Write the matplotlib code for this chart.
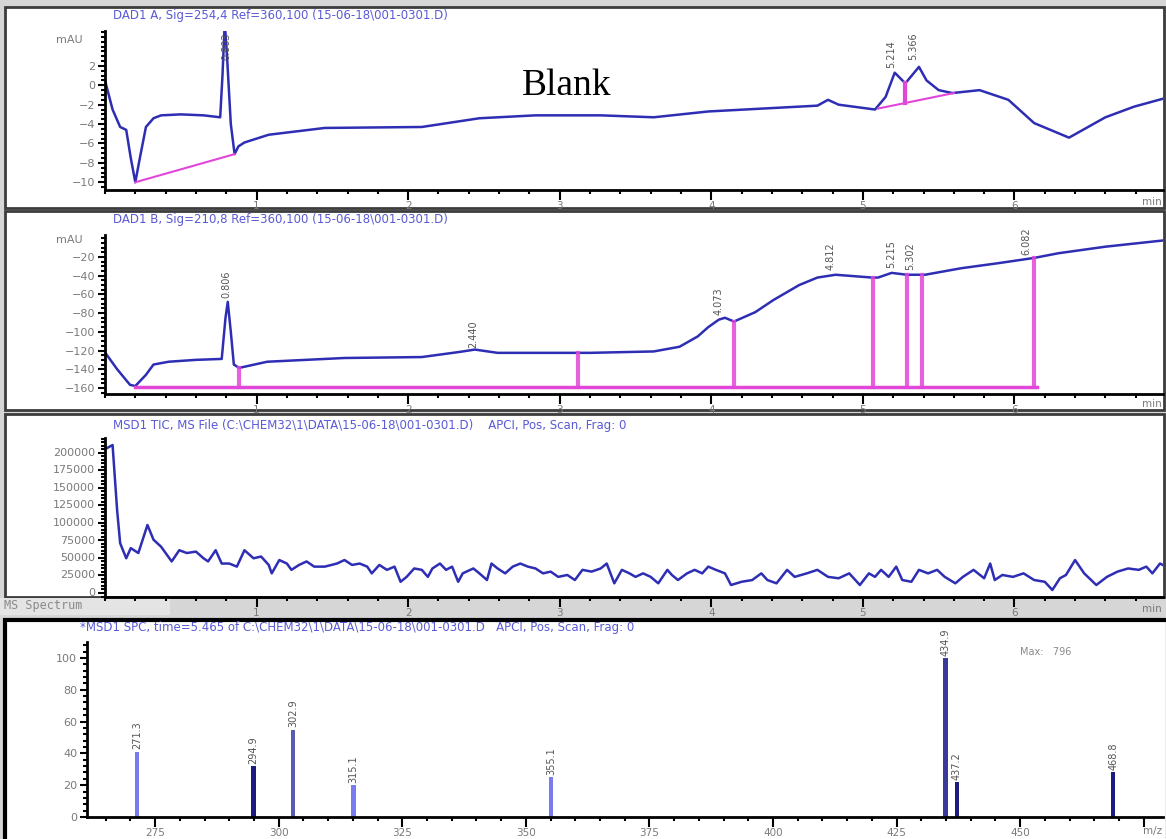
import matplotlib
matplotlib.use("Agg")
import matplotlib.pyplot as plt
import matplotlib.patches as patches
from matplotlib.ticker import MultipleLocator, FixedLocator
import numpy as np

# ---------------- data ----------------
# DAD1 A, 254 nm
p1_t = [0.0, 0.05, 0.10, 0.14, 0.17, 0.20, 0.23, 0.27, 0.32, 0.37, 0.50, 0.65, 0.76,
        0.775, 0.79, 0.805, 0.83, 0.855, 0.88, 0.92, 1.08, 1.45, 2.09, 2.47, 2.84, 3.27,
        3.62, 3.98, 4.70, 4.77, 4.84, 5.08, 5.15, 5.21, 5.28, 5.37, 5.42, 5.50, 5.59,
        5.77, 5.96, 6.13, 6.36, 6.60, 6.79, 7.0]
p1_mau = [0.5, -2.5, -4.3, -4.6, -7.5, -10.0, -7.5, -4.3, -3.4, -3.1, -3.0, -3.1, -3.3,
          1.0, 6.5, 3.0, -4.0, -7.1, -6.3, -5.9, -5.1, -4.4, -4.3, -3.4, -3.1, -3.1,
          -3.3, -2.7, -2.1, -1.5, -2.0, -2.5, -1.2, 1.3, 0.2, 1.9, 0.5, -0.5, -0.8,
          -0.5, -1.5, -3.9, -5.4, -3.3, -2.2, -1.3]
p1_peaks = ["0.803", "5.214", "5.366"]
p1_peak_t = [0.80, 5.19, 5.33]
p1_label_y = [2.6, 1.8, 2.6]

# DAD1 B, 210 nm
p2_t = [0.0, 0.08, 0.165, 0.20, 0.27, 0.32, 0.42, 0.60, 0.77, 0.795, 0.81, 0.83, 0.85,
        0.885, 1.07, 1.58, 2.09, 2.34, 2.44, 2.59, 3.20, 3.62, 3.79, 3.91, 3.98, 4.05,
        4.09, 4.15, 4.29, 4.41, 4.58, 4.70, 4.82, 5.06, 5.10, 5.19, 5.29, 5.41, 5.65,
        5.89, 6.13, 6.29, 6.60, 7.0]
p2_mau = [-122, -140, -156.7, -158, -146, -135, -132, -130, -129, -85, -68, -100, -135,
          -138.6, -132, -128, -127, -121.5, -119, -122.5, -122.5, -121, -116, -105, -95,
          -87, -85, -89, -79, -66, -50, -42, -39, -42, -42, -37, -39, -39, -32, -26.7,
          -21, -16, -9, -2]
p2_peaks = ["0.806", "2.440", "4.073", "4.812", "5.215", "5.302", "6.082"]
p2_peak_t = [0.80, 2.43, 4.05, 4.79, 5.19, 5.31, 6.08]
p2_label_y = [-64, -117, -82, -34, -32, -34, -18]
p2_drops = [0.885, 3.12, 4.15, 5.07, 5.29, 5.39, 6.13]

# MSD1 TIC
tic_t = [0.0, 0.05, 0.08, 0.10, 0.14, 0.17, 0.22, 0.28, 0.32, 0.37, 0.44, 0.49, 0.54,
         0.60, 0.65, 0.68, 0.73, 0.77, 0.82, 0.87, 0.92, 0.98, 1.03, 1.08, 1.10, 1.15,
         1.20, 1.23, 1.28, 1.33, 1.38, 1.45, 1.53, 1.58, 1.63, 1.68, 1.73, 1.76, 1.81,
         1.86, 1.91, 1.95, 1.99, 2.04, 2.09, 2.13, 2.16, 2.21, 2.25, 2.29, 2.33, 2.36,
         2.43, 2.47, 2.52, 2.55, 2.59, 2.64, 2.69, 2.74, 2.79, 2.84, 2.89, 2.94, 2.99,
         3.05, 3.10, 3.15, 3.21, 3.27, 3.31, 3.36, 3.41, 3.46, 3.50, 3.55, 3.60, 3.65,
         3.71, 3.74, 3.78, 3.84, 3.89, 3.94, 3.98, 4.03, 4.09, 4.13, 4.20, 4.27, 4.33,
         4.37, 4.43, 4.50, 4.55, 4.63, 4.70, 4.77, 4.84, 4.91, 4.98, 5.04, 5.08, 5.12,
         5.17, 5.22, 5.26, 5.32, 5.37, 5.43, 5.49, 5.54, 5.61, 5.66, 5.73, 5.80, 5.84,
         5.87, 5.92, 5.99, 6.06, 6.13, 6.20, 6.25, 6.30, 6.34, 6.40, 6.46, 6.54, 6.61,
         6.68, 6.75, 6.82, 6.87, 6.91, 6.96, 7.0]
tic_counts = [205000, 211000, 118000, 71000, 49500, 64000, 57000, 97000, 76000, 66000,
              45000, 61000, 57000, 59000, 49500, 45000, 61000, 42000, 42000, 37600,
              61000, 49500, 52000, 40000, 28000, 47000, 42000, 33000, 40000, 45000,
              37600, 37600, 42000, 47000, 40000, 42000, 37600, 28000, 40000, 33000,
              37600, 16000, 23000, 35000, 33000, 23000, 35000, 42000, 33000, 37600,
              16000, 28000, 35000, 28000, 18500, 42000, 35000, 28000, 37600, 42000,
              37600, 35000, 28000, 30500, 23000, 25700, 18500, 33000, 30500, 35000,
              42000, 13800, 33000, 28000, 23000, 28000, 23000, 13800, 33000, 25700,
              18500, 28000, 33000, 28000, 37600, 33000, 28000, 11400, 16000, 18500,
              28000, 18500, 13800, 33000, 23000, 28000, 33000, 23000, 21000, 28000,
              11400, 28000, 23000, 33000, 23000, 37600, 18500, 16000, 33000, 28000,
              33000, 23000, 13800, 23000, 33000, 21000, 42000, 18500, 25700, 23000,
              28000, 18500, 16000, 4300, 21000, 25700, 47000, 28000, 11400, 23000,
              30500, 35000, 33000, 37600, 28000, 42000, 37600]

# MS spectrum at 5.465 min
ms_mz = [271.3, 294.9, 302.9, 315.1, 355.1, 434.9, 437.2, 468.8]
ms_abund = [41, 32, 55, 20, 25, 100, 22, 28]
ms_colors = ["#7b7bf0", "#1c1c80", "#5a5ab4", "#7b7bf0", "#7b7bf0", "#3a3a9c", "#1c1c80", "#1c1c80"]

# ---------------- layout helpers ----------------
W, H = 1166, 839
fig = plt.figure(figsize=(W / 100, H / 100), dpi=100)
fig.patch.set_facecolor("#d6d6d6")

LINE = "#2e2eb4"
PINK = "#e246d8"
GREY = "#7a7a7a"
TITLE = "#5a5ad6"


def box(x0, y0, x1, y1, **kw):
    fig.patches.append(patches.Rectangle((x0 / W, 1 - y1 / H), (x1 - x0) / W, (y1 - y0) / H,
                                         transform=fig.transFigure, zorder=-5, **kw))


def ax_at(x0, y0, x1, y1):
    a = fig.add_axes([x0 / W, 1 - y1 / H, (x1 - x0) / W, (y1 - y0) / H])
    a.patch.set_visible(False)
    for s in ("top", "right"):
        a.spines[s].set_visible(False)
    for s in ("left", "bottom"):
        a.spines[s].set_linewidth(2)
        a.spines[s].set_color("black")
    a.tick_params(which="major", direction="out", length=5, width=1.5, color="black",
                  labelsize=8, labelcolor=GREY, pad=2)
    a.tick_params(which="minor", direction="out", length=3, width=1.5, color="black")
    a.tick_params(axis="x", which="major", length=7, pad=1, labelsize=7.5)
    return a


def ftext(x, y, s, **kw):
    fig.text(x / W, 1 - y / H, s, **kw)


# panel frames (drawn under the axes)
box(5, 7, 1164, 208, facecolor="white", edgecolor="#3c3c3c", lw=2)
box(5, 211, 1164, 410, facecolor="white", edgecolor="#3c3c3c", lw=2)
box(5, 414, 1164, 597, facecolor="white", edgecolor="#3c3c3c", lw=2)
box(5, 620, 1168, 845, facecolor="white", edgecolor="black", lw=3)
box(0, 598, 170, 615, facecolor="#e4e4e4", edgecolor="none")


def chrom_axis(a):
    a.set_xlim(0, 6.98)
    a.xaxis.set_major_locator(FixedLocator([1, 2, 3, 4, 5, 6]))
    a.xaxis.set_minor_locator(MultipleLocator(0.2))


# ---------------- DAD1 A ----------------
ax1 = ax_at(105, 31, 1163, 190)
ax1.plot(p1_t, p1_mau, color=LINE, lw=1.8)
ax1.plot([0.20, 0.855], [-10.0, -7.1], color=PINK, lw=1.5)
ax1.plot([5.10, 5.60], [-2.4, -0.8], color=PINK, lw=1.5)
b = np.interp(5.28, [5.10, 5.60], [-2.4, -0.8])
ax1.plot([5.28, 5.28], [b, np.interp(5.28, p1_t, p1_mau)], color=PINK, lw=3)
for lab, t, y in zip(p1_peaks, p1_peak_t, p1_label_y):
    ax1.text(t, y, lab, rotation=90, ha="center", va="bottom", fontsize=7, color="#555555")
chrom_axis(ax1)
ax1.set_ylim(-10.8, 5.6)
ax1.yaxis.set_major_locator(FixedLocator([-10, -8, -6, -4, -2, 0, 2]))
ax1.yaxis.set_minor_locator(MultipleLocator(0.5))
ftext(522, 95, "Blank", fontsize=27, family="Liberation Serif", color="black")
ftext(83, 40, "mAU", fontsize=8, color=GREY, ha="right", va="center")
ftext(113, 16, r"DAD1 A, Sig=254,4 Ref=360,100 (15-06-18\001-0301.D)", fontsize=8.5,
      color=TITLE, va="center")
ftext(1142, 202, "min", fontsize=7.5, color=GREY, va="center")

# ---------------- DAD1 B ----------------
ax2 = ax_at(105, 235, 1163, 394)
ax2.plot(p2_t, p2_mau, color=LINE, lw=1.8)
ax2.plot([0.20, 6.15], [-159, -159], color=PINK, lw=2.5)
for t in p2_drops:
    ax2.plot([t, t], [-159, np.interp(t, p2_t, p2_mau)], color=PINK, lw=3, alpha=0.85)
for lab, t, y in zip(p2_peaks, p2_peak_t, p2_label_y):
    ax2.text(t, y, lab, rotation=90, ha="center", va="bottom", fontsize=7, color="#555555")
chrom_axis(ax2)
ax2.set_ylim(-166.5, 3.5)
ax2.yaxis.set_major_locator(FixedLocator([-160, -140, -120, -100, -80, -60, -40, -20]))
ax2.yaxis.set_minor_locator(MultipleLocator(5))
ftext(83, 240, "mAU", fontsize=8, color=GREY, ha="right", va="center")
ftext(113, 219, r"DAD1 B, Sig=210,8 Ref=360,100 (15-06-18\001-0301.D)", fontsize=8.5,
      color=TITLE, va="center")
ftext(1142, 404, "min", fontsize=7.5, color=GREY, va="center")

# ---------------- TIC ----------------
ax3 = ax_at(105, 438, 1163, 597)
ax3.plot(tic_t, tic_counts, color=LINE, lw=1.8)
chrom_axis(ax3)
ax3.set_ylim(-5700, 221000)
ax3.yaxis.set_major_locator(MultipleLocator(25000))
ax3.yaxis.set_minor_locator(MultipleLocator(5000))
ax3.set_yticklabels([])
for v in range(0, 200001, 25000):
    ftext(95, 593 - v / 200000 * 140, str(v), fontsize=8, color=GREY, ha="right", va="center")
ftext(113, 425, r"MSD1 TIC, MS File (C:\CHEM32\1\DATA\15-06-18\001-0301.D)    APCI, Pos, Scan, Frag: 0",
      fontsize=8.5, color=TITLE, va="center")
ftext(1142, 609, "min", fontsize=7.5, color=GREY, va="center")
ftext(4, 606, "MS Spectrum", fontsize=8.5, color="#8a8a8a", va="center", family="DejaVu Sans Mono")

# ---------------- MS spectrum ----------------
ax4 = ax_at(87, 642, 1163, 817)
ax4.bar(ms_mz, ms_abund, width=0.9, color=ms_colors)
for mz, h in zip(ms_mz, ms_abund):
    ax4.text(mz, h + 1.5, f"{mz:.1f}", rotation=90, ha="center", va="bottom", fontsize=7,
             color="#555555")
ax4.set_xlim(261.2, 478.9)
ax4.set_ylim(0, 110)
ax4.xaxis.set_major_locator(FixedLocator([275, 300, 325, 350, 375, 400, 425, 450, 475]))
ax4.set_xticklabels(["275", "300", "325", "350", "375", "400", "425", "450", ""])
ax4.xaxis.set_minor_locator(MultipleLocator(5))
ax4.yaxis.set_major_locator(MultipleLocator(20))
ax4.yaxis.set_minor_locator(MultipleLocator(4))
ftext(80, 628, r"*MSD1 SPC, time=5.465 of C:\CHEM32\1\DATA\15-06-18\001-0301.D   APCI, Pos, Scan, Frag: 0",
      fontsize=8.5, color=TITLE, va="center")
ftext(1020, 652, "Max:   796", fontsize=7, color="#8a8a8a", va="center")
ftext(1143, 831, "m/z", fontsize=7.5, color=GREY, va="center")

fig.savefig("out.png", dpi=100, facecolor=fig.get_facecolor())
